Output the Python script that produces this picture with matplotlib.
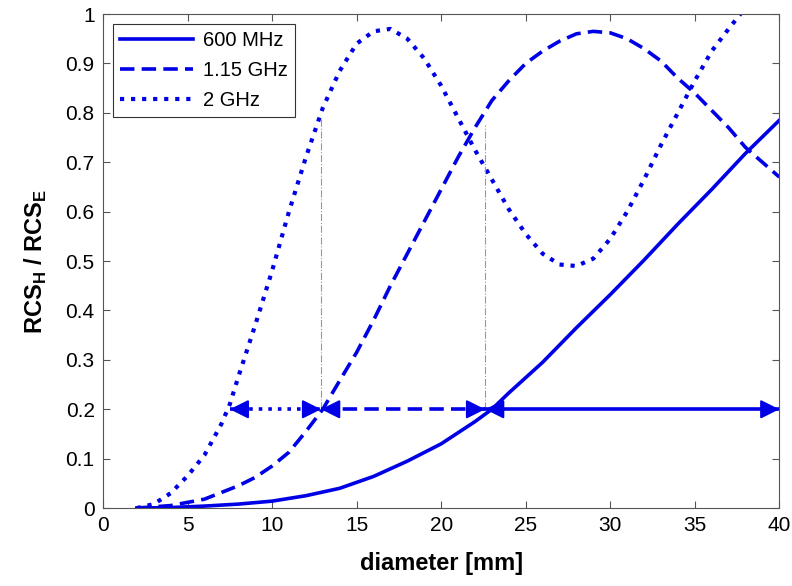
import numpy as np
import matplotlib.pyplot as plt

plt.rcParams['font.family'] = ['Liberation Sans', 'DejaVu Sans']
plt.rcParams['mathtext.fontset'] = 'custom'
plt.rcParams['mathtext.rm'] = 'Liberation Sans'
plt.rcParams['mathtext.bf'] = 'Liberation Sans:bold'

# Values
d_600 = [2, 4, 6, 8, 10, 12, 14, 16, 18, 20, 22, 23, 24, 26, 28, 30, 32, 34, 36, 38, 40]
r_600 = [0, 0.001, 0.004, 0.008, 0.014, 0.025, 0.04, 0.064, 0.095, 0.13, 0.175, 0.2,
         0.233, 0.295, 0.365, 0.432, 0.502, 0.575, 0.645, 0.718, 0.785]

d_115 = [2, 4, 6, 8, 9, 10, 11, 12, 13, 14, 15, 16, 17, 18, 19, 20, 21, 22, 23, 24, 25,
         26, 27, 28, 29, 30, 31, 32, 33, 34, 35, 36, 37, 38, 39, 40]
r_115 = [0, 0.005, 0.018, 0.045, 0.062, 0.085, 0.113, 0.155, 0.2, 0.258, 0.315, 0.38,
         0.45, 0.515, 0.58, 0.645, 0.71, 0.77, 0.825, 0.865, 0.9, 0.925, 0.945, 0.96,
         0.965, 0.962, 0.95, 0.93, 0.905, 0.87, 0.84, 0.805, 0.77, 0.73, 0.7, 0.67]

d_2g = [2, 3, 4, 5, 6, 7, 7.5, 8, 9, 10, 11, 12, 13, 14, 15, 16, 17, 18, 19, 20, 21, 22,
        23, 24, 25, 26, 27, 28, 29, 30, 31, 32, 33, 34, 35, 36, 37, 37.7]
r_2g = [0, 0.008, 0.03, 0.065, 0.107, 0.17, 0.21, 0.265, 0.37, 0.48, 0.6, 0.71, 0.81,
        0.885, 0.94, 0.965, 0.97, 0.95, 0.91, 0.855, 0.79, 0.725, 0.665, 0.605, 0.555,
        0.515, 0.493, 0.49, 0.505, 0.545, 0.6, 0.665, 0.735, 0.8, 0.865, 0.925, 0.97, 1.0]

# arrows at level 0.2 and guide lines
arrow_level = 0.2
arrow_2g = (7.5, 12.9)
arrow_115 = (12.9, 22.6)
arrow_600 = (22.6, 40)
guide_x = [12.9, 22.6]
guide_top = [0.79, 0.775]

blue = '#0000e6'
lw = 2.6

fig = plt.figure(figsize=(7.92, 5.86), dpi=100)
ax = fig.add_axes([0.130, 0.133, 0.854, 0.843])

ax.plot(d_600, r_600, '-', color=blue, lw=lw, label='600 MHz')
ax.plot(d_115, r_115, '--', color=blue, lw=lw, dashes=(4, 2), label='1.15 GHz')
ax.plot(d_2g, r_2g, ':', color=blue, lw=lw + 0.4, label='2 GHz')

for gx, gt in zip(guide_x, guide_top):
    ax.plot([gx, gx], [arrow_level, gt], '-.', color='#999999', lw=0.8)

def double_arrow(x0, x1, style, dashes=None):
    kw = dict(color=blue, lw=lw)
    if dashes is not None:
        ax.plot([x0, x1], [arrow_level] * 2, style, dashes=dashes, **kw)
    else:
        ax.plot([x0, x1], [arrow_level] * 2, style, **kw)
    span = 1.0
    props = dict(arrowstyle='-|>,head_length=0.6,head_width=0.3', color=blue, lw=1.5,
                 mutation_scale=19, shrinkA=0, shrinkB=0)
    ax.annotate('', xy=(x0, arrow_level), xytext=(x0 + span, arrow_level), arrowprops=props)
    ax.annotate('', xy=(x1, arrow_level), xytext=(x1 - span, arrow_level), arrowprops=props)

double_arrow(*arrow_2g, ':')
double_arrow(*arrow_115, '--', dashes=(4, 2))
double_arrow(*arrow_600, '-')

ax.set_xlim(0, 40)
ax.set_ylim(0, 1)
ax.set_xticks(np.arange(0, 41, 5))
ax.set_yticks(np.arange(0, 1.01, 0.1))
ax.set_yticklabels(['0', '0.1', '0.2', '0.3', '0.4', '0.5', '0.6', '0.7', '0.8', '0.9', '1'])
ax.tick_params(direction='in', top=True, right=True, labelsize=15, length=5,
               color='#555555', pad=6)
for s in ax.spines.values():
    s.set_color('#555555')
    s.set_linewidth(0.8)

ax.set_xlabel('diameter [mm]', fontsize=17, fontweight='bold', labelpad=12)
ax.set_ylabel(r'RCS$_\mathbf{H}$ / RCS$_\mathbf{E}$', fontsize=17, fontweight='bold', labelpad=12)

leg = ax.legend(loc='upper left', fontsize=14.5, handlelength=3.6, fancybox=False,
                edgecolor='#333333', framealpha=1, borderpad=0.35, labelspacing=0.55,
                handletextpad=0.5, borderaxespad=0.5)
leg.get_frame().set_linewidth(0.8)

fig.savefig('out.png', dpi=100)
